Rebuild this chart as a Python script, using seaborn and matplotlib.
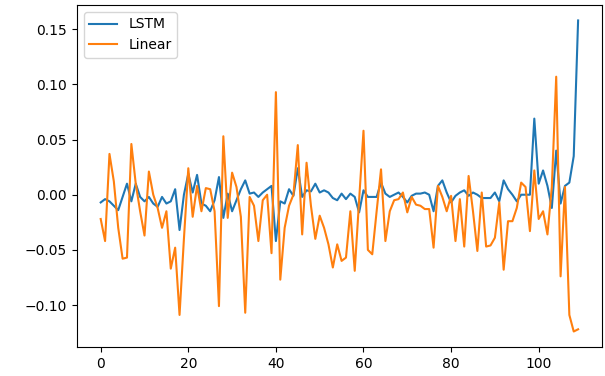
import numpy as np
import pandas as pd
import matplotlib
matplotlib.use("Agg")
import matplotlib.pyplot as plt
import seaborn as sns

lstm = [
    -0.007, -0.004, -0.006, -0.010, -0.014, -0.002, 0.010, -0.006, 0.010, -0.002,
    -0.006, -0.002, -0.008, -0.011, -0.002, -0.008, -0.006, 0.005, -0.032, 0.000,
    0.019, 0.002, 0.018, -0.008, -0.010, -0.015, -0.005, 0.016, -0.021, 0.001,
    -0.015, -0.005, 0.005, 0.013, 0.001, 0.002, -0.002, 0.002, 0.005, 0.008,
    -0.042, -0.006, -0.008, 0.005, -0.001, 0.024, -0.002, 0.004, 0.003, 0.010,
    0.002, 0.004, 0.002, -0.003, -0.005, 0.001, -0.004, 0.001, -0.002, -0.016,
    0.004, -0.002, -0.002, -0.002, 0.011, 0.001, -0.002, 0.000, 0.002, -0.002,
    -0.007, -0.001, 0.001, 0.001, 0.002, 0.000, -0.015, 0.008, 0.013, 0.002,
    -0.007, -0.001, 0.002, 0.004, -0.001, 0.002, 0.000, -0.003, -0.003, -0.003,
    0.002, -0.006, 0.013, 0.005, 0.000, -0.006, 0.000, 0.000, 0.000, 0.069,
    0.010, 0.022, 0.008, -0.012, 0.040, -0.008, 0.008, 0.011, 0.035, 0.158,
]

linear = [
    -0.022, -0.042, 0.037, 0.012, -0.030, -0.058, -0.057, 0.046, 0.010, -0.015,
    -0.037, 0.021, 0.000, -0.012, -0.030, -0.015, -0.067, -0.048, -0.109, -0.040,
    0.024, -0.020, 0.008, -0.015, 0.006, 0.005, -0.015, -0.101, 0.053, -0.021,
    0.020, 0.007, -0.020, -0.107, -0.002, -0.010, -0.042, -0.005, 0.000, -0.053,
    0.093, -0.077, -0.030, -0.010, 0.000, 0.045, -0.036, 0.029, -0.010, -0.040,
    -0.019, -0.030, -0.045, -0.066, -0.045, -0.060, -0.057, -0.015, -0.069, -0.005,
    0.058, -0.050, -0.054, -0.015, 0.023, -0.042, -0.015, -0.005, -0.004, 0.002,
    -0.016, -0.002, -0.009, -0.010, -0.013, -0.013, -0.048, 0.008, -0.002, -0.015,
    -0.001, -0.042, -0.004, -0.047, 0.017, -0.015, -0.051, 0.002, -0.047, -0.046,
    -0.039, -0.007, -0.068, -0.024, -0.024, -0.012, 0.011, 0.007, -0.033, 0.022,
    -0.022, -0.015, -0.036, 0.007, 0.107, -0.074, 0.007, -0.109, -0.124, -0.122,
]

series_names = ["LSTM", "Linear"]
colors = ["#1f77b4", "#ff7f0e"]

idx = np.arange(len(lstm))
df = pd.DataFrame({
    "step": np.concatenate([idx, idx]),
    "value": np.concatenate([lstm, linear]),
    "series": [series_names[0]] * len(lstm) + [series_names[1]] * len(linear),
})

fig, ax = plt.subplots(figsize=(6.05, 3.76), dpi=100)
fig.subplots_adjust(left=0.127, right=0.995, top=0.987, bottom=0.077)

sns.lineplot(data=df, x="step", y="value", hue="series", palette=colors,
             linewidth=1.5, ax=ax)
ax.set_xlabel("")
ax.set_ylabel("")
ax.set_xticks([0, 20, 40, 60, 80, 100])
sns.move_legend(ax, "upper left", title=None)

fig.savefig("out.png", dpi=100)
